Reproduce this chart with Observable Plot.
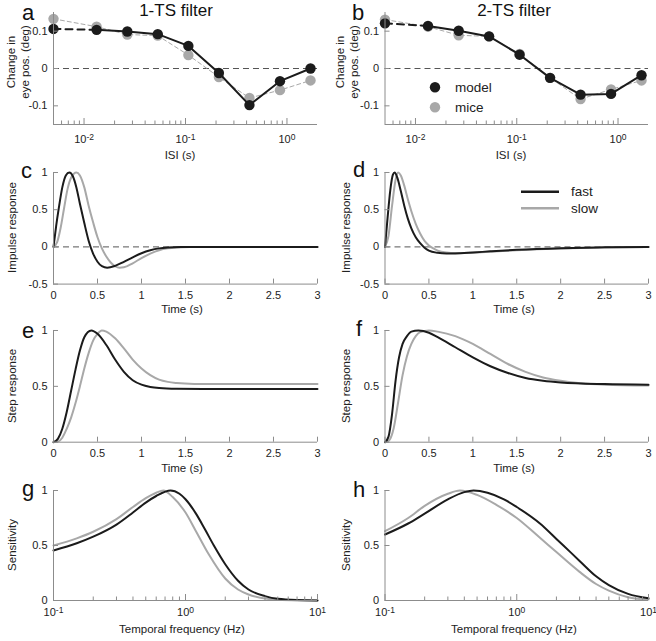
<!DOCTYPE html>
<html><head><meta charset="utf-8">
<script src="https://cdn.jsdelivr.net/npm/d3@7"></script>
<script src="https://cdn.jsdelivr.net/npm/@observablehq/plot@0.6"></script>
<style>
body{margin:0;background:#fff;}
#chart{position:relative;width:656px;height:641px;overflow:hidden;background:#fff;}
</style></head><body><div id="chart"></div>
<script>
// ---------- data ----------
const isi = [0.005, 0.0133, 0.0267, 0.0533, 0.1067, 0.2133, 0.4267, 0.8533, 1.7067];
const aModel = [0.106, 0.1035, 0.099, 0.092, 0.0605, -0.012, -0.098, -0.034, 0.0];
const aMice  = [0.133, 0.112, 0.091, 0.088, 0.036, -0.023, -0.079, -0.058, -0.032];
const bModel = [0.121, 0.114, 0.101, 0.086, 0.037, -0.025, -0.070, -0.068, -0.018];
const bMice  = [0.131, 0.112, 0.089, 0.086, 0.039, -0.025, -0.082, -0.056, -0.032];

const cFastT = [0, 0.03, 0.06, 0.1, 0.14, 0.18, 0.22, 0.26, 0.3, 0.35, 0.4, 0.45, 0.5, 0.55, 0.61, 0.7, 0.8, 0.9, 1.0, 1.1, 1.2, 1.3, 1.45, 1.7, 2, 3];
const cFastV = [0, 0.28, 0.52, 0.8, 0.96, 1.0, 0.95, 0.8, 0.58, 0.32, 0.08, -0.09, -0.2, -0.26, -0.28, -0.255, -0.2, -0.14, -0.085, -0.045, -0.02, -0.008, -0.002, 0, 0, 0];
const cSlowT = [0, 0.04, 0.08, 0.12, 0.16, 0.2, 0.26, 0.3, 0.35, 0.4, 0.45, 0.5, 0.55, 0.6, 0.65, 0.7, 0.75, 0.8, 0.9, 1.0, 1.1, 1.2, 1.3, 1.4, 1.55, 1.8, 2, 3];
const cSlowV = [0, 0.06, 0.25, 0.52, 0.78, 0.93, 1.0, 0.96, 0.8, 0.55, 0.33, 0.13, -0.02, -0.13, -0.21, -0.26, -0.28, -0.275, -0.22, -0.15, -0.09, -0.045, -0.02, -0.008, -0.002, 0, 0, 0];

const dFastT = [0, 0.03, 0.06, 0.09, 0.11, 0.14, 0.18, 0.22, 0.26, 0.3, 0.35, 0.4, 0.45, 0.5, 0.6, 0.7, 0.8, 1.0, 1.2, 1.5, 2.0, 2.5, 3];
const dFastV = [0, 0.4, 0.76, 0.97, 1.0, 0.93, 0.75, 0.55, 0.38, 0.25, 0.13, 0.05, -0.01, -0.05, -0.08, -0.09, -0.088, -0.075, -0.06, -0.04, -0.018, -0.006, 0];
const dSlowT = [0, 0.04, 0.08, 0.12, 0.15, 0.18, 0.22, 0.26, 0.3, 0.35, 0.4, 0.45, 0.5, 0.55, 0.6, 0.7, 0.8, 1.0, 1.2, 1.5, 2.0, 2.5, 3];
const dSlowV = [0, 0.15, 0.55, 0.9, 1.0, 0.96, 0.82, 0.64, 0.48, 0.31, 0.18, 0.08, 0.02, -0.02, -0.05, -0.075, -0.082, -0.078, -0.066, -0.046, -0.022, -0.008, 0];

const eFastT = [0, 0.05, 0.1, 0.15, 0.2, 0.25, 0.3, 0.35, 0.43, 0.5, 0.6, 0.7, 0.8, 0.9, 1.0, 1.1, 1.2, 1.4, 1.7, 2, 3];
const eFastV = [0, 0.03, 0.12, 0.27, 0.46, 0.65, 0.82, 0.94, 1.0, 0.97, 0.87, 0.74, 0.63, 0.555, 0.515, 0.495, 0.485, 0.478, 0.476, 0.476, 0.476];
const eSlowT = [0, 0.05, 0.1, 0.15, 0.2, 0.25, 0.3, 0.35, 0.4, 0.45, 0.5, 0.55, 0.6, 0.7, 0.8, 0.9, 1.0, 1.1, 1.2, 1.3, 1.4, 1.6, 2, 3];
const eSlowV = [0, 0.005, 0.04, 0.12, 0.22, 0.35, 0.5, 0.66, 0.8, 0.91, 0.97, 1.0, 0.99, 0.93, 0.84, 0.74, 0.66, 0.6, 0.56, 0.54, 0.53, 0.522, 0.52, 0.52];

const fFastT = [0, 0.04, 0.08, 0.12, 0.16, 0.2, 0.25, 0.3, 0.38, 0.5, 0.6, 0.8, 1.0, 1.2, 1.4, 1.6, 1.8, 2.0, 2.5, 3];
const fFastV = [0, 0.05, 0.25, 0.55, 0.76, 0.88, 0.95, 0.99, 1.0, 0.98, 0.94, 0.85, 0.76, 0.68, 0.62, 0.575, 0.55, 0.535, 0.52, 0.515];
const fSlowT = [0, 0.05, 0.1, 0.15, 0.2, 0.25, 0.3, 0.35, 0.4, 0.5, 0.6, 0.8, 1.0, 1.2, 1.4, 1.6, 1.8, 2.0, 2.2, 2.5, 3];
const fSlowV = [0, 0.02, 0.13, 0.36, 0.6, 0.77, 0.88, 0.95, 0.985, 1.0, 0.99, 0.95, 0.88, 0.79, 0.7, 0.63, 0.58, 0.55, 0.53, 0.515, 0.508];

const gFastF = [0.1, 0.15, 0.2, 0.3, 0.4, 0.5, 0.6, 0.77, 0.9, 1.0, 1.2, 1.4, 1.64, 2, 2.5, 3, 4, 5, 7, 10];
const gFastV = [0.455, 0.52, 0.58, 0.69, 0.8, 0.89, 0.95, 1.0, 0.97, 0.92, 0.79, 0.65, 0.5, 0.33, 0.18, 0.1, 0.04, 0.015, 0.004, 0.001];
const gSlowF = [0.1, 0.15, 0.2, 0.3, 0.4, 0.5, 0.6, 0.68, 0.8, 1.0, 1.2, 1.5, 2, 2.5, 3, 4, 5, 7, 10];
const gSlowV = [0.5, 0.565, 0.625, 0.74, 0.85, 0.93, 0.98, 1.0, 0.94, 0.8, 0.63, 0.42, 0.2, 0.1, 0.055, 0.018, 0.006, 0.001, 0];

const hFastF = [0.1, 0.15, 0.2, 0.3, 0.4, 0.47, 0.6, 0.8, 1.0, 1.5, 2, 2.26, 3, 4, 5, 7, 10];
const hFastV = [0.6, 0.7, 0.79, 0.92, 0.985, 1.0, 0.98, 0.92, 0.85, 0.7, 0.56, 0.5, 0.36, 0.22, 0.14, 0.06, 0.02];
const hSlowF = [0.1, 0.15, 0.2, 0.3, 0.37, 0.5, 0.7, 1.0, 1.5, 2, 3, 4, 5, 7, 10];
const hSlowV = [0.63, 0.75, 0.86, 0.97, 1.0, 0.96, 0.87, 0.75, 0.57, 0.44, 0.26, 0.15, 0.09, 0.03, 0.008];

const isiMajor = [0.01, 0.1, 1];
const isiMinor = [0.006, 0.007, 0.008, 0.009, 0.02, 0.03, 0.04, 0.05, 0.06, 0.07, 0.08, 0.09, 0.2, 0.3, 0.4, 0.5, 0.6, 0.7, 0.8, 0.9];
const freqMajor = [0.1, 1, 10];
const freqMinor = [0.2, 0.3, 0.4, 0.5, 0.6, 0.7, 0.8, 0.9, 2, 3, 4, 5, 6, 7, 8, 9];
const timeTicks = [0, 0.5, 1, 1.5, 2, 2.5, 3];
const eyeTicks = [-0.1, 0, 0.1];
const impulseTicks = [-0.5, 0, 0.5, 1];
const unitTicks = [0, 0.5, 1];

// ---------- style ----------
const FONT = '"Liberation Sans", Arial, Helvetica, sans-serif';
const BLACK = "#1b1b1b", GRAY = "#a8a8a8", AXIS = "#8c8c8c", TEXT = "#222", ZERO = "#555";
const cols = {L: {left: 0, ml: 53, mr: 11}, R: {left: 328, ml: 56.5, mr: 8}};
const rows = [{top: 12, bottom: 124}, {top: 171.7, bottom: 283.3}, {top: 330, bottom: 441.7}, {top: 490, bottom: 600}];
const MT = 8, MB = 30, W = 328;
const chart = document.getElementById("chart");

const expFmt = d => "10^" + Math.round(Math.log10(d));
const plainFmt = d => String(d);
const zip = (xs, ys) => xs.map((x, i) => ({x, y: ys[i]}));

function makePlot(col, row, xScale, yScale, marks) {
  const c = cols[col], r = rows[row];
  const h = MT + (r.bottom - r.top) + MB;
  const svg = Plot.plot({
    width: W, height: h,
    marginLeft: c.ml, marginRight: c.mr, marginTop: MT, marginBottom: MB,
    x: xScale, y: yScale,
    style: {fontFamily: FONT, fontSize: "11px", background: "transparent", overflow: "visible", color: TEXT},
    marks: [
      ...marks,
      Plot.ruleX([xScale.domain[0]], {stroke: AXIS, strokeWidth: 1}),
      Plot.ruleY([yScale.domain[0]], {stroke: AXIS, strokeWidth: 1})
    ]
  });
  // render "10^k" tick labels with a real superscript
  svg.querySelectorAll("text").forEach(t => {
    const m = /^10\^(-?\d+)$/.exec(t.textContent);
    if (m) {
      t.textContent = "10";
      const s = document.createElementNS("http://www.w3.org/2000/svg", "tspan");
      s.setAttribute("dy", "-0.45em");
      s.setAttribute("font-size", "8.5px");
      s.textContent = m[1];
      t.appendChild(s);
    }
  });
  svg.style.position = "absolute";
  svg.style.left = c.left + "px";
  svg.style.top = (r.top - MT) + "px";
  chart.append(svg);
}

function logXAxes(major, minor, pad) {
  return [
    Plot.axisX(minor, {tickSize: -3.5, tickFormat: () => "", stroke: AXIS, label: null}),
    Plot.axisX(major, {tickSize: -6, tickPadding: pad, tickFormat: expFmt, stroke: AXIS, fill: TEXT, label: null})
  ];
}
function linXAxis(ticks) {
  return Plot.axisX(ticks, {tickSize: -5, tickPadding: 12, tickFormat: plainFmt, stroke: AXIS, fill: TEXT, label: null});
}
function yAxis(ticks) {
  return Plot.axisY(ticks, {tickSize: -5, tickPadding: 11, tickFormat: plainFmt, stroke: AXIS, fill: TEXT, label: null});
}

// ---------- panels a, b ----------
function eyePanel(col, model, mice) {
  const m = zip(isi, model), mc = zip(isi, mice);
  makePlot(col, 0, {type: "log", domain: [0.005, 2]}, {domain: [-0.15, 0.15]}, [
    Plot.ruleY([0], {stroke: ZERO, strokeWidth: 1, strokeDasharray: "6,4"}),
    Plot.line(mc, {x: "x", y: "y", stroke: GRAY, strokeWidth: 1, strokeDasharray: "4,3"}),
    Plot.dot(mc, {x: "x", y: "y", r: 5.2, fill: GRAY}),
    Plot.line(m.slice(0, 2), {x: "x", y: "y", stroke: BLACK, strokeWidth: 2, strokeDasharray: "7,5"}),
    Plot.line(m.slice(1), {x: "x", y: "y", stroke: BLACK, strokeWidth: 2}),
    Plot.dot(m, {x: "x", y: "y", r: 5.2, fill: BLACK}),
    ...logXAxes(isiMajor, isiMinor, 17),
    yAxis(eyeTicks)
  ]);
}
eyePanel("L", aModel, aMice);
eyePanel("R", bModel, bMice);

// ---------- time panels ----------
function timePanel(col, row, yDom, yTicks, fast, slow, zero) {
  makePlot(col, row, {domain: [0, 3]}, {domain: yDom}, [
    zero ? Plot.ruleY([0], {stroke: ZERO, strokeWidth: 1, strokeDasharray: "6,4"}) : null,
    Plot.line(slow, {x: "x", y: "y", stroke: GRAY, strokeWidth: 2, curve: "monotone-x"}),
    Plot.line(fast, {x: "x", y: "y", stroke: BLACK, strokeWidth: 2, curve: "monotone-x"}),
    linXAxis(timeTicks),
    yAxis(yTicks)
  ]);
}
timePanel("L", 1, [-0.5, 1], impulseTicks, zip(cFastT, cFastV), zip(cSlowT, cSlowV), true);
timePanel("R", 1, [-0.5, 1], impulseTicks, zip(dFastT, dFastV), zip(dSlowT, dSlowV), true);
timePanel("L", 2, [0, 1], unitTicks, zip(eFastT, eFastV), zip(eSlowT, eSlowV), false);
timePanel("R", 2, [0, 1], unitTicks, zip(fFastT, fFastV), zip(fSlowT, fSlowV), false);

// ---------- frequency panels ----------
function freqPanel(col, fast, slow) {
  makePlot(col, 3, {type: "log", domain: [0.1, 10]}, {domain: [0, 1]}, [
    Plot.line(slow, {x: "x", y: "y", stroke: GRAY, strokeWidth: 2, curve: "monotone-x"}),
    Plot.line(fast, {x: "x", y: "y", stroke: BLACK, strokeWidth: 2, curve: "monotone-x"}),
    ...logXAxes(freqMajor, freqMinor, 14),
    yAxis(unitTicks)
  ]);
}
freqPanel("L", zip(gFastF, gFastV), zip(gSlowF, gSlowV));
freqPanel("R", zip(hFastF, hFastV), zip(hSlowF, hSlowV));

// ---------- text overlay ----------
const ov = d3.create("svg").attr("width", 656).attr("height", 641)
  .style("position", "absolute").style("left", "0px").style("top", "0px")
  .style("pointer-events", "none").style("font-family", FONT);
function txt(x, y, s, size, anchor = "start", rot = false, fill = TEXT) {
  const t = ov.append("text").attr("font-size", size).attr("fill", fill).attr("text-anchor", anchor).text(s);
  if (rot) t.attr("transform", `translate(${x},${y}) rotate(-90)`).attr("dominant-baseline", "central");
  else t.attr("x", x).attr("y", y);
  return t;
}
// panel letters
[["a", 22, 20], ["b", 352, 20], ["c", 21, 178], ["d", 353, 177], ["e", 22, 338], ["f", 356, 336], ["g", 22, 496], ["h", 353, 497]]
  .forEach(([s, x, y]) => txt(x, y, s, 22, "start", false, "#111"));
// titles
txt(176, 16, "1-TS filter", 17, "middle", false, "#111");
txt(514, 16, "2-TS filter", 17, "middle", false, "#111");
// x labels
txt(180, 159, "ISI (s)", 11.5, "middle");
txt(511, 159, "ISI (s)", 11.5, "middle");
txt(182, 313, "Time (s)", 11.5, "middle");
txt(514, 313, "Time (s)", 11.5, "middle");
txt(182, 472, "Time (s)", 11.5, "middle");
txt(514, 472, "Time (s)", 11.5, "middle");
txt(182, 633, "Temporal frequency (Hz)", 11.5, "middle");
txt(514, 633, "Temporal frequency (Hz)", 11.5, "middle");
// y labels
txt(11, 62, "Change in", 11.5, "middle", true);
txt(25, 62, "eye pos. (deg)", 11.5, "middle", true);
txt(340, 62, "Change in", 11.5, "middle", true);
txt(354, 62, "eye pos. (deg)", 11.5, "middle", true);
txt(12, 227.5, "Impulse response", 11.5, "middle", true);
txt(346, 227.5, "Impulse response", 11.5, "middle", true);
txt(12, 386, "Step response", 11.5, "middle", true);
txt(346, 386, "Step response", 11.5, "middle", true);
txt(12, 545, "Sensitivity", 11.5, "middle", true);
txt(346, 545, "Sensitivity", 11.5, "middle", true);
// legend b
ov.append("circle").attr("cx", 435).attr("cy", 87.3).attr("r", 5.2).attr("fill", BLACK);
ov.append("circle").attr("cx", 435).attr("cy", 107.3).attr("r", 5.2).attr("fill", GRAY);
txt(455, 92, "model", 13.5);
txt(455, 112, "mice", 13.5);
// legend d
ov.append("line").attr("x1", 521).attr("x2", 559).attr("y1", 191.7).attr("y2", 191.7).attr("stroke", BLACK).attr("stroke-width", 2.5);
ov.append("line").attr("x1", 521).attr("x2", 559).attr("y1", 208.3).attr("y2", 208.3).attr("stroke", GRAY).attr("stroke-width", 2.5);
txt(571, 196, "fast", 13.5);
txt(571, 213, "slow", 13.5);
chart.append(ov.node());
</script></body></html>
